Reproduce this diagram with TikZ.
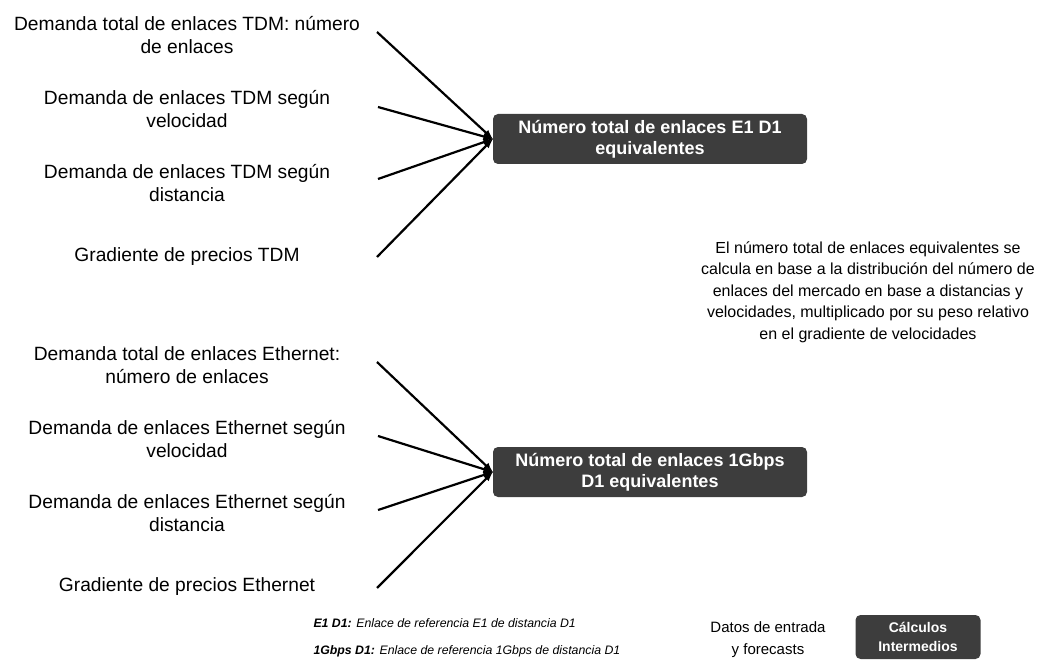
\documentclass[tikz,border=0pt]{standalone}
\usepackage{fontspec}
\setmainfont{Liberation Sans}
\begin{document}
\begin{tikzpicture}[x=1pt, y=-1pt, node distance=74pt, >=latex,
  inp/.style={font=\fontsize{19.2}{23.5}\selectfont, align=center},
  calc/.style={fill=black!76, text=white, rounded corners=5pt, align=center,
    font=\bfseries\fontsize{18}{21}\selectfont, minimum width=314pt,
    minimum height=50pt, inner sep=0pt},
  link/.style={->, line width=2.2pt}]
  \useasboundingbox (0,0) rectangle (1058,660);
  % TDM
  \node (T1) [inp] at (187,35) {Demanda total de enlaces TDM: número\\de enlaces};
  \node (T2) [inp, below of =T1] {Demanda de enlaces TDM según\\velocidad};
  \node (T3) [inp, below of =T2] {Demanda de enlaces TDM según\\distancia};
  \node (T4) [inp, below of =T3] {Gradiente de precios TDM};
  \node (E1) [calc] at (650,139) {Número total de enlaces E1 D1\\equivalentes};
  \coordinate (a1) at (377,32);
  \coordinate (a2) at (378,107);
  \coordinate (a3) at (378,179);
  \coordinate (a4) at (377,257);
  \foreach \s in {a1,a2,a3,a4}
    \draw[link] (\s) -- (E1.west);
  % Ethernet
  \node (G1) [inp] at (187,365) {Demanda total de enlaces Ethernet:\\número de enlaces};
  \node (G2) [inp, below of =G1] {Demanda de enlaces Ethernet según\\velocidad};
  \node (G3) [inp, below of =G2] {Demanda de enlaces Ethernet según\\distancia};
  \node (G4) [inp, below of =G3] {Gradiente de precios Ethernet};
  \node (E2) [calc] at (650,472) {Número total de enlaces 1Gbps\\D1 equivalentes};
  \coordinate (b1) at (377,362);
  \coordinate (b2) at (378,436);
  \coordinate (b3) at (378,510);
  \coordinate (b4) at (377,588);
  \foreach \s in {b1,b2,b3,b4}
    \draw[link] (\s) -- (E2.west);
  % note
  \node (N) [align=center, font=\fontsize{16}{21.5}\selectfont] at (868,292)
    {El número total de enlaces equivalentes se\\calcula en base a la distribución del número de\\enlaces del mercado en base a distancias y\\velocidades, multiplicado por su peso relativo\\en el gradiente de velocidades};
  % legend
  \node (L) [anchor=west, align=left, font=\itshape\fontsize{12.3}{27}\selectfont] at (310,638)
    {\textbf{E1 D1:} Enlace de referencia E1 de distancia D1\\\textbf{1Gbps D1:} Enlace de referencia 1Gbps de distancia D1};
  \node (D) [align=center, font=\fontsize{15}{22}\selectfont] at (768,640) {Datos de entrada\\y forecasts};
  \node (C) [calc, minimum width=125pt, minimum height=44pt, font=\bfseries\fontsize{14}{19}\selectfont] at (918,637) {Cálculos\\Intermedios};
\end{tikzpicture}
\end{document}
